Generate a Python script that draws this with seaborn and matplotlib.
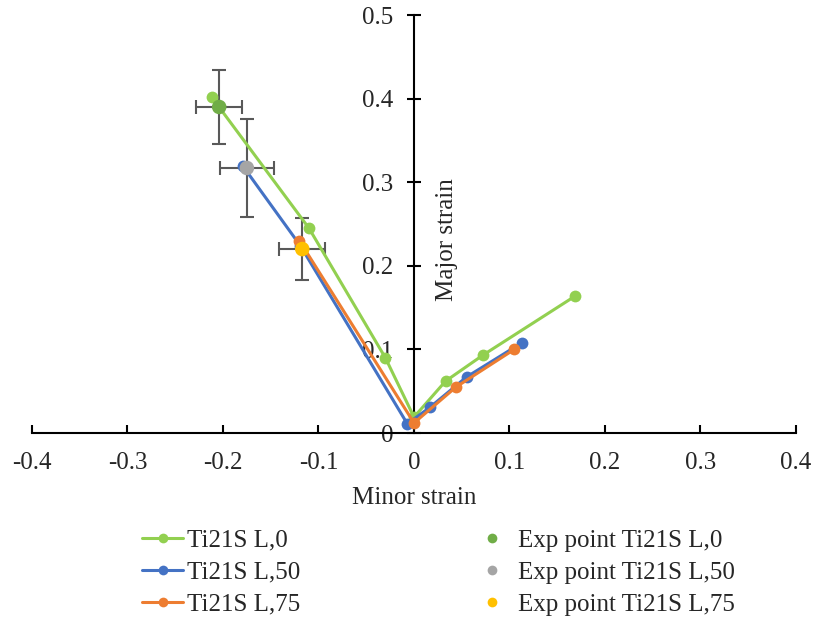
import numpy as np
import pandas as pd
import matplotlib
matplotlib.use("Agg")
import matplotlib.pyplot as plt
import seaborn as sns
from matplotlib.lines import Line2D

# ── data ─────────────────────────────────────────────────────────────────
series_names = ["Ti21S L,0", "Ti21S L,50", "Ti21S L,75"]
minor_l0  = [-0.212, -0.110, -0.030, 0.000, 0.033, 0.072, 0.169]
major_l0  = [0.402, 0.245, 0.090, 0.019, 0.062, 0.093, 0.164]
minor_l50 = [-0.179, -0.119, -0.007, 0.017, 0.055, 0.113]
major_l50 = [0.319, 0.224, 0.011, 0.031, 0.067, 0.108]
minor_l75 = [-0.120, 0.000, 0.044, 0.105]
major_l75 = [0.230, 0.012, 0.055, 0.100]

exp_names = ["Exp point Ti21S L,0", "Exp point Ti21S L,50", "Exp point Ti21S L,75"]
exp_minor = [-0.204, -0.175, -0.117]
exp_major = [0.390, 0.317, 0.220]
exp_xerr  = [0.024, 0.028, 0.024]
exp_yerr  = [0.044, 0.059, 0.037]

line_colors = ["#92D050", "#4472C4", "#ED7D31"]
exp_colors  = ["#70AD47", "#A5A5A5", "#FFC000"]

FS = 18

# ── style ────────────────────────────────────────────────────────────────
sns.set_theme(style="white")
plt.rcParams["font.family"] = ["Liberation Serif", "DejaVu Serif"]

fig = plt.figure(figsize=(8.14, 6.22), dpi=100)
ax = fig.add_axes([32 / 814, 1 - 433 / 622, (796 - 32) / 814, (433 - 15) / 622])

lines = pd.concat([
    pd.DataFrame({"minor": minor_l0, "major": major_l0, "s": series_names[0]}),
    pd.DataFrame({"minor": minor_l50, "major": major_l50, "s": series_names[1]}),
    pd.DataFrame({"minor": minor_l75, "major": major_l75, "s": series_names[2]}),
], ignore_index=True)

# draw lines (green first so orange sits on top, like the reference)
for name, col in zip(series_names, line_colors):
    sub = lines[lines["s"] == name]
    sns.lineplot(data=sub, x="minor", y="major", sort=False, ax=ax,
                 color=col, lw=2.2, marker="o", markersize=8.5,
                 markeredgewidth=0, legend=False, zorder=3)

# experimental points with error bars
ax.errorbar(exp_minor, exp_major, xerr=exp_xerr, yerr=exp_yerr, fmt="none",
            ecolor="#595959", elinewidth=1.5, capsize=5, capthick=1.5, zorder=2)
exp_df = pd.DataFrame({"minor": exp_minor, "major": exp_major, "s": exp_names})
sns.scatterplot(data=exp_df, x="minor", y="major", hue="s", palette=exp_colors,
                s=110, linewidth=0, ax=ax, legend=False, zorder=4)

# ── axes through origin (Excel style) ────────────────────────────────────
ax.set_xlim(-0.4, 0.4)
ax.set_ylim(0, 0.5)
for side in ["top", "right"]:
    ax.spines[side].set_visible(False)
ax.spines["left"].set_position(("data", 0))
ax.spines["bottom"].set_position(("data", 0))
for side in ["left", "bottom"]:
    ax.spines[side].set_color("black")
    ax.spines[side].set_linewidth(1.5)

ax.set_xticks(np.arange(-0.4, 0.41, 0.1))
ax.set_xticklabels(["-0.4", "-0.3", "-0.2", "-0.1", "0", "0.1", "0.2", "0.3", "0.4"])
ax.set_yticks(np.arange(0, 0.51, 0.1))
ax.set_yticklabels(["0", "0.1", "0.2", "0.3", "0.4", "0.5"])
ax.tick_params(axis="x", bottom=True, direction="in", length=6, width=1.5,
               color="black", labelsize=FS, pad=14)
ax.tick_params(axis="y", left=True, direction="inout", length=10, width=1.5,
               color="black", labelsize=FS, pad=10)
ax.set_xlabel("")
ax.set_ylabel("")
fig.text(414 / 814, 1 - 498 / 622, "Minor strain", ha="center", va="center", fontsize=FS)
fig.text(447 / 814, 1 - 240 / 622, "Major strain", ha="center", va="center",
         rotation=90, fontsize=FS)

# ── legends below the plot ───────────────────────────────────────────────
h1 = [Line2D([0], [0], color=c, lw=2.2, marker="o", markersize=7, markeredgewidth=0)
      for c in line_colors]
h2 = [Line2D([0], [0], color=c, lw=0, marker="o", markersize=7, markeredgewidth=0)
      for c in exp_colors]
leg_kw = dict(frameon=False, fontsize=FS, loc="upper left", borderpad=0,
              borderaxespad=0, labelspacing=0.38, handlelength=1.64)
leg1 = fig.legend(h1, series_names, bbox_to_anchor=(142 / 814, 1 - 529 / 622),
                  handletextpad=0.16, **leg_kw)
leg2 = fig.legend(h2, exp_names, bbox_to_anchor=(471 / 814, 1 - 529 / 622),
                  handletextpad=0.22, **leg_kw)

fig.savefig("out.png", dpi=100)
